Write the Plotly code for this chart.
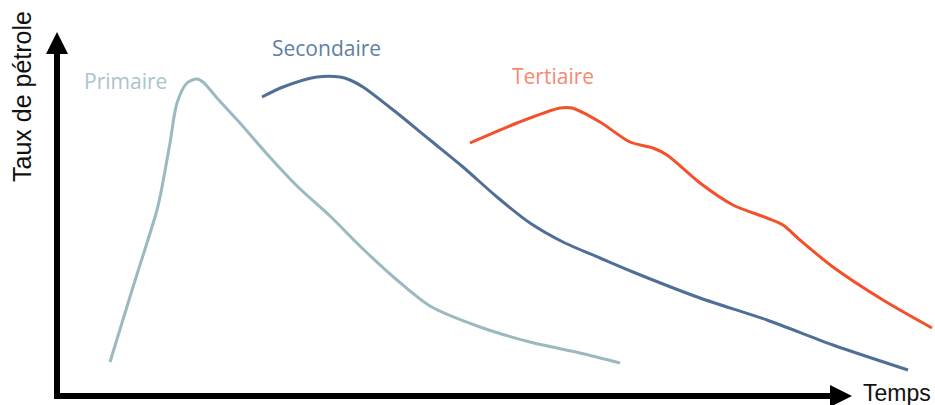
import plotly.graph_objects as go

prim_t = [110, 133, 157, 162, 170, 177, 187, 197, 203, 217, 240, 267, 297, 330, 363, 397, 430, 480, 530, 580, 620]
prim_y = [362, 287, 210, 187, 143, 103, 83, 79, 82, 98, 123, 154, 186, 216, 249, 280, 306, 327, 342, 353, 363]

sec_t = [262, 283, 317, 340, 350, 363, 397, 430, 463, 497, 530, 563, 600, 633, 700, 767, 833, 908]
sec_y = [97, 87, 77, 77, 80, 87, 113, 140, 167, 197, 223, 242, 258, 272, 298, 320, 345, 370]

ter_t = [470, 517, 560, 572, 600, 630, 653, 667, 700, 733, 767, 783, 800, 833, 883, 932]
ter_y = [143, 123, 108, 108, 122, 142, 148, 155, 183, 205, 218, 225, 240, 267, 300, 328]

H = 405
prim_r = [H - v for v in prim_y]
sec_r = [H - v for v in sec_y]
ter_r = [H - v for v in ter_y]

labels = ["Primaire", "Secondaire", "Tertiaire"]
line_colors = ["#9bb9c0", "#4f6f96", "#f4502a"]
label_colors = ["#a9c5ca", "#5e80a6", "#f58a70"]
label_pos = [(125, H - 81), (326, H - 48), (553, H - 76)]

fig = go.Figure()
for t, r, c in [(prim_t, prim_r, line_colors[0]), (sec_t, sec_r, line_colors[1]), (ter_t, ter_r, line_colors[2])]:
    fig.add_trace(go.Scatter(x=t, y=r, mode="lines", line=dict(color=c, width=3, shape="spline", smoothing=0.8),
                             showlegend=False, hoverinfo="skip"))

for lab, col, (x, y) in zip(labels, label_colors, label_pos):
    fig.add_annotation(x=x, y=y, text=lab, showarrow=False, font=dict(family="Open Sans", size=21, color=col),
                       xanchor="center", yanchor="middle")

# Axis labels
fig.add_annotation(x=22, y=H - 97, text="Taux de pétrole", textangle=-90, showarrow=False,
                   font=dict(family="Liberation Sans", size=25, color="#111111"), xanchor="center", yanchor="middle")
fig.add_annotation(x=897, y=H - 393, text="Temps", showarrow=False,
                   font=dict(family="Liberation Sans", size=23, color="#111111"), xanchor="center", yanchor="middle")

# Axes arrows
shapes = [
    dict(type="line", x0=57, y0=H - 399, x1=57, y1=H - 50, line=dict(color="black", width=6)),
    dict(type="line", x0=54, y0=H - 396, x1=836, y1=H - 396, line=dict(color="black", width=6)),
    dict(type="path", path=f"M 46,{H-54} L 57,{H-32} L 68,{H-54} Z", fillcolor="black", line=dict(width=0)),
    dict(type="path", path=f"M 830,{H-385} L 852,{H-396} L 830,{H-407} Z", fillcolor="black", line=dict(width=0)),
]
fig.update_layout(shapes=shapes)

fig.update_xaxes(range=[0, 935], visible=False, fixedrange=True)
fig.update_yaxes(range=[0, H], visible=False, fixedrange=True)
fig.update_layout(width=935, height=405, margin=dict(l=0, r=0, t=0, b=0),
                  plot_bgcolor="white", paper_bgcolor="white")
fig.write_html("out.html", config={"displayModeBar": False},
               post_script="document.body.style.margin='0';document.body.style.overflow='hidden';")
